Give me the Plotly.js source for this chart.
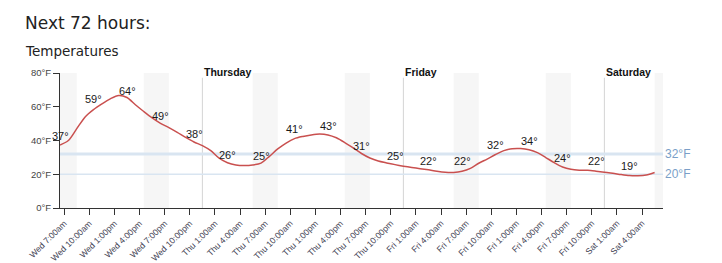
<!DOCTYPE html>
<html>
<head>
<meta charset="utf-8">
<script src="https://cdn.plot.ly/plotly-3.0.1.min.js"></script>
<style>
html,body{margin:0;padding:0;background:#fff;}
#chart{width:722px;height:263px;}
</style>
</head>
<body>
<div id="chart"></div>
<script>
// Hours since Wed 7:00am (tick time); hourly series
const hours = [-0.5,0.5,1.5,2.5,3.5,4.5,5.5,6.5,7.5,8.5,9.5,10.5,11.5,12.5,13.5,14.5,15.5,16.5,17.5,18.5,19.5,20.5,21.5,22.5,23.5,24.5,25.5,26.5,27.5,28.5,29.5,30.5,31.5,32.5,33.5,34.5,35.5,36.5,37.5,38.5,39.5,40.5,41.5,42.5,43.5,44.5,45.5,46.5,47.5,48.5,49.5,50.5,51.5,52.5,53.5,54.5,55.5,56.5,57.5,58.5,59.5,60.5,61.5,62.5,63.5,64.5,65.5,66.5,67.5,68.5,69.5,70.5];
const temps = [37.3,40,47,54,58.3,61.7,64.7,66.7,65.5,61.2,57.2,53.4,50.2,47.6,44.8,41.8,39.1,37,34,29.5,26.8,25.5,25.2,25.5,26.6,30.6,35,38.5,41.1,42.4,43.3,43.8,43.3,41.6,38.8,35.6,32.3,29.6,27.8,26.7,25.7,24.8,24,23.3,22.6,21.8,21.2,21.1,21.8,23.5,26.5,29,31.7,34,35.1,35.2,34.5,32.8,29.9,26.9,24.3,22.9,22.4,22.3,21.8,21.2,20.6,19.8,19.2,19.1,19.5,21];

const labelHours = [-0.5,3.5,7.5,11.5,15.5,19.5,23.5,27.5,31.5,35.5,39.5,43.5,47.5,51.5,55.5,59.5,63.5,67.5];
const labelTemps = [37,59,64,49,38,26,25,41,43,31,25,22,22,32,34,24,22,19];

const tickHours = [0,3,6,9,12,15,18,21,24,27,30,33,36,39,42,45,48,51,54,57,60,63,66,69];
const tickLabels = ["Wed 7:00am","Wed 10:00am","Wed 1:00pm","Wed 4:00pm","Wed 7:00pm","Wed 10:00pm","Thu 1:00am","Thu 4:00am","Thu 7:00am","Thu 10:00am","Thu 1:00pm","Thu 4:00pm","Thu 7:00pm","Thu 10:00pm","Fri 1:00am","Fri 4:00am","Fri 7:00am","Fri 10:00am","Fri 1:00pm","Fri 4:00pm","Fri 7:00pm","Fri 10:00pm","Sat 1:00am","Sat 4:00am"];

const yTicks = [0,20,40,60,80];
const yTickLabels = ["0°F","20°F","40°F","60°F","80°F"];

const bandStart = [-0.5,9.5,22.5,33.5,46.5,57.5,70.5];
const bandEnd   = [1.5,12.5,25.5,36.5,49.5,60.5,71.5];

const dayHours = [16.5,40.5,64.5];
const dayNames = ["Thursday","Friday","Saturday"];

const refTemps = [32,20];
const refLabels = ["32°F","20°F"];
const refWidths = [3,1.5];

const AR = 'Liberation Sans, Arial, sans-serif';
const shapes = [];
bandStart.forEach((s,i)=>{
  shapes.push({type:'rect',xref:'x',yref:'paper',x0:s,x1:bandEnd[i],y0:0,y1:1,fillcolor:'#f6f6f6',line:{width:0},layer:'below'});
});
dayHours.forEach(h=>{
  shapes.push({type:'line',xref:'x',yref:'paper',x0:h,x1:h,y0:0,y1:0.965,line:{color:'#d4d4d4',width:1},layer:'below'});
});
refTemps.forEach((t,i)=>{
  shapes.push({type:'line',xref:'paper',yref:'y',x0:0,x1:1,y0:t,y1:t,line:{color:'#d9e5f1',width:refWidths[i]},layer:'below'});
});

const annotations = [];
annotations.push({xref:'paper',yref:'paper',x:0,y:1,xshift:-37,yshift:50,text:'Next 72 hours:',showarrow:false,xanchor:'left',yanchor:'middle',font:{family:'DejaVu Sans, sans-serif',size:17,color:'#222'}});
annotations.push({xref:'paper',yref:'paper',x:0,y:1,xshift:-37,yshift:22,text:'Temperatures',showarrow:false,xanchor:'left',yanchor:'middle',font:{family:'DejaVu Sans, sans-serif',size:13.5,color:'#222'}});
dayHours.forEach((h,i)=>{
  annotations.push({xref:'x',yref:'paper',x:h,y:1,yshift:1,text:'<b>'+dayNames[i]+'</b>',showarrow:false,xanchor:'left',yanchor:'middle',font:{family:AR,size:10.5,color:'#111'}});
});
refTemps.forEach((t,i)=>{
  annotations.push({xref:'paper',yref:'y',x:1,y:t,text:refLabels[i],showarrow:false,xanchor:'left',yanchor:'middle',font:{family:AR,size:12,color:'#7a9fc8'}});
});
labelHours.forEach((h,i)=>{
  annotations.push({xref:'x',yref:'y',x:h,y:labelTemps[i],yshift:9.5,text:labelTemps[i]+'°',showarrow:false,xanchor:'center',yanchor:'middle',font:{family:AR,size:11,color:'#1a1a1a'}});
});

const data = [{
  x: hours, y: temps, type:'scatter', mode:'lines',
  line:{color:'#c9504f',width:1.5,shape:'spline',smoothing:0.8},
  hoverinfo:'skip'
}];

const layout = {
  width:722, height:263,
  margin:{l:60,r:59,t:73,b:55,pad:0},
  paper_bgcolor:'#fff', plot_bgcolor:'#fff',
  showlegend:false,
  xaxis:{range:[-0.5,71.5],tickmode:'array',tickvals:tickHours,ticktext:tickLabels,tickangle:-45,
    ticks:'outside',ticklen:6,tickcolor:'#333',showline:true,linecolor:'#333',linewidth:1,
    showgrid:false,zeroline:false,fixedrange:true,automargin:false,
    tickfont:{family:AR,size:8.6,color:'#445'}},
  yaxis:{range:[0,80],tickmode:'array',tickvals:yTicks,ticktext:yTickLabels,
    ticks:'outside',ticklen:6,tickcolor:'#333',showline:true,linecolor:'#333',linewidth:1,
    showgrid:false,zeroline:false,fixedrange:true,
    tickfont:{family:AR,size:9.5,color:'#444'}},
  shapes:shapes,
  annotations:annotations
};

Plotly.newPlot('chart', data, layout, {displayModeBar:false, staticPlot:true});
</script>
</body>
</html>
